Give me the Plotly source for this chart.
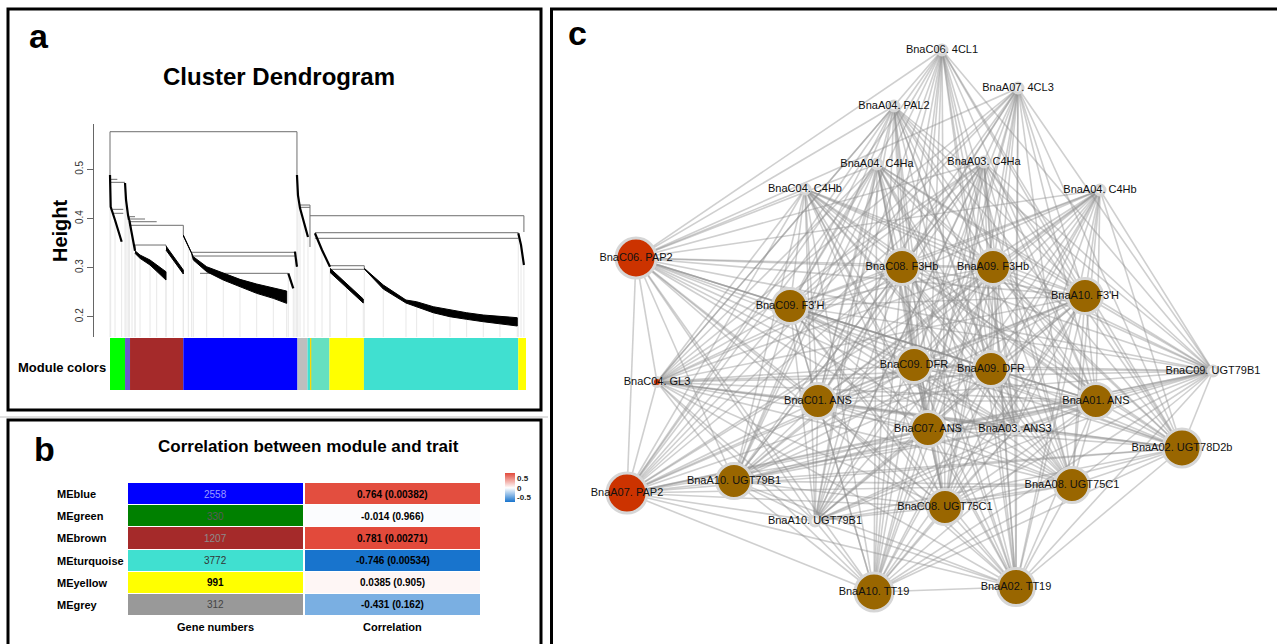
import plotly.graph_objects as go

W, H = 1277, 644
FONT = "Arial, Liberation Sans, Helvetica, sans-serif"

# ---------------- Panel a : dendrogram data (x = gene order, y = height) ----------------
TOTAL_GENES = 9170
HEIGHT_RANGE = [0.1587, 0.5925]
HEIGHT_TICKS = [0.2, 0.3, 0.4, 0.5]

# horizontal merge bars
MERGE_X1 = [0, 0, 15, 59, 59, 425, 425, 425, 425, 551, 1800, 1800, 1984,
            4188, 4188, 4408, 4518, 4518, 4849, 4849]
MERGE_X2 = [4121, 161, 331, 293, 293, 551, 772, 1029, 1616, 1234, 4077, 4077, 3930,
            4408, 4408, 9124, 9000, 9000, 5605, 5605]
MERGE_H = [0.5768, 0.4798, 0.4737, 0.4187, 0.4106, 0.4037, 0.3990, 0.3935, 0.3862,
           0.3460, 0.3312, 0.3236, 0.2884, 0.4275, 0.4228, 0.4057, 0.3711, 0.3597,
           0.3039, 0.2965]
# vertical drops (x, top height, bottom height)
DROP_X = [0, 4121, 9124, 4408, 1616, 425, 551, 1234, 5605, 4849, 9000, 4077, 3930]
DROP_TOP = [0.5768, 0.5768, 0.4057, 0.4275, 0.3862, 0.4037, 0.3460, 0.3460, 0.3039,
            0.3039, 0.3711, 0.3312, 0.2884]
DROP_BOTTOM = [0.4886, 0.4886, 0.3725, 0.3420, 0.3664, 0.3969, 0.3344, 0.3440, 0.2986,
               0.3018, 0.3699, 0.3324, 0.2884]

# dense leaf bands: x, top height, bottom height
BAND_BROWN1_X = [551, 661, 882, 1029, 1234]
BAND_BROWN1_TOP = [0.3344, 0.3257, 0.3155, 0.3053, 0.2916]
BAND_BROWN1_BOT = [0.3291, 0.3189, 0.3053, 0.2916, 0.2747]
BAND_BROWN2_X = [1234, 1396, 1616]
BAND_BROWN2_TOP = [0.3440, 0.3222, 0.2951]
BAND_BROWN2_BOT = [0.3358, 0.3140, 0.2870]
BAND_BLUE_X = [1616, 1726, 1800, 1836, 2131, 2497, 2865, 3233, 3600, 3894]
BAND_BLUE_TOP = [0.3664, 0.3460, 0.3318, 0.3222, 0.3018, 0.2883, 0.2761, 0.2666, 0.2578, 0.2523]
BAND_BLUE_BOT = [0.3644, 0.3440, 0.3290, 0.3155, 0.2917, 0.2747, 0.2611, 0.2476, 0.2374, 0.2272]
BAND_YELLOW_X = [4849, 5217, 5583]
BAND_YELLOW_TOP = [0.2986, 0.2666, 0.2361]
BAND_YELLOW_BOT = [0.2904, 0.2585, 0.2279]
BAND_TURQ_X = [5605, 6024, 6524, 6760, 7126, 7494, 7862, 8228, 8596, 8977]
BAND_TURQ_TOP = [0.2986, 0.2646, 0.2340, 0.2305, 0.2204, 0.2136, 0.2081, 0.2035, 0.2008, 0.1980]
BAND_TURQ_BOT = [0.2971, 0.2564, 0.2279, 0.2204, 0.2081, 0.2000, 0.1947, 0.1898, 0.1851, 0.1811]

# thin branch chains
BRANCH_GREEN_X = [0, 15, 110, 257]
BRANCH_GREEN_H = [0.4886, 0.4240, 0.3970, 0.3527]
BRANCH_PURPLE_X = [331, 353, 397, 419]
BRANCH_PURPLE_H = [0.4723, 0.4377, 0.4071, 0.3969]
BRANCH_BROWN_X = [425, 485, 551]
BRANCH_BROWN_H = [0.3969, 0.3705, 0.3344]
BRANCH_GREY_X = [4121, 4143, 4188, 4276, 4364]
BRANCH_GREY_H = [0.4886, 0.4478, 0.4213, 0.3929, 0.3623]
BRANCH_MIX_X = [4518, 4673, 4849]
BRANCH_MIX_H = [0.3699, 0.3358, 0.3018]
BRANCH_END_X = [9000, 9060, 9124]
BRANCH_END_H = [0.3699, 0.3460, 0.3053]
BRANCH_B1_X = [4077, 4121]
BRANCH_B1_H = [0.3324, 0.3018]
BRANCH_B2_X = [3930, 4040]
BRANCH_B2_H = [0.2884, 0.2578]

# module colour strip (gene counts along leaf order)
STRIP_COLORS = ["#00FF00", "#6A5ACD", "#A52A2A", "#0000FF", "#BEBEBE", "#40E0D0",
                "#FFD700", "#66E0C0", "#FFFF00", "#40E0D0", "#FFFF00"]
STRIP_SIZES = [331, 110, 1175, 2516, 221, 66, 18, 400, 760, 3403, 170]

# ---------------- Panel b : module / trait table ----------------
MODULES = ["MEblue", "MEgreen", "MEbrown", "MEturquoise", "MEyellow", "MEgrey"]
GENE_NUMBERS = [2558, 330, 1207, 3772, 991, 312]
MODULE_COLORS = ["#0000FF", "#008000", "#A52A2A", "#40E0D0", "#FFFF00", "#999999"]
GENE_TEXT_COLORS = ["#9A9AFF", "#5A5A5A", "#8C8C8C", "#333333", "#000000", "#444444"]
CORR = [0.764, -0.014, 0.781, -0.746, 0.0385, -0.431]
PVAL = ["0.00382", "0.966", "0.00271", "0.00534", "0.905", "0.162"]
COLUMNS = ["Gene numbers", "Correlation"]
CBAR_TICKS = [-0.5, 0, 0.5]

# ---------------- Panel c : network ----------------
NODE_NAMES = ["BnaC06. 4CL1", "BnaA07. 4CL3", "BnaA04. PAL2", "BnaA04. C4Ha", "BnaA03. C4Ha",
              "BnaC04. C4Hb", "BnaA04. C4Hb", "BnaC06. PAP2", "BnaC08. F3Hb", "BnaA09. F3Hb",
              "BnaA10. F3'H", "BnaC09. F3'H", "BnaC09. DFR", "BnaA09. DFR", "BnaC04. GL3",
              "BnaC09. UGT79B1", "BnaC01. ANS", "BnaA01. ANS", "BnaC07. ANS", "BnaA03. ANS3",
              "BnaA02. UGT78D2b", "BnaA10. UGT79B1", "BnaA07. PAP2", "BnaA08. UGT75C1",
              "BnaC08. UGT75C1", "BnaA10. UGT79B1", "BnaA10. TT19", "BnaA02. TT19"]
NODE_X = [942, 1018, 894, 877, 984, 805, 1100, 636, 902, 993, 1085, 790, 914, 991, 657,
          1213, 818, 1096, 928, 1015, 1182, 734, 627, 1072, 945, 815, 874, 1016]
NODE_Y = [50, 88, 106, 164, 162, 189, 190, 258, 267, 267, 296, 306, 365, 369, 382,
          371, 401, 401, 429, 429, 448, 481, 493, 485, 507, 521, 592, 587]
NODE_GROUP = ["upstream"] * 7 + ["regulator", "flavonoid", "flavonoid", "flavonoid", "flavonoid",
              "flavonoid", "flavonoid", "regulator", "other", "flavonoid", "flavonoid",
              "flavonoid", "other", "flavonoid", "flavonoid", "regulator", "flavonoid",
              "flavonoid", "other", "flavonoid", "flavonoid"]
NODE_SIZE = [10, 10, 10, 10, 10, 10, 10, 40, 35, 35, 35, 35, 35, 35, 9, 10, 35, 35, 35, 9,
             38, 35, 40, 35, 35, 10, 38, 37]
GROUP_FILL = {"upstream": "#F2F2F2", "other": "#F2F2F2", "regulator": "#CC3300",
              "flavonoid": "#996600"}

# ================== build figure ==================
fig = go.Figure()

def dom_x(a, b):
    return [a / W, b / W]

def dom_y(top, bottom):
    return [1 - bottom / H, 1 - top / H]

# ---- panel a traces ----
bands = [(BAND_BROWN1_X, BAND_BROWN1_TOP, BAND_BROWN1_BOT),
         (BAND_BROWN2_X, BAND_BROWN2_TOP, BAND_BROWN2_BOT),
         (BAND_BLUE_X, BAND_BLUE_TOP, BAND_BLUE_BOT),
         (BAND_YELLOW_X, BAND_YELLOW_TOP, BAND_YELLOW_BOT),
         (BAND_TURQ_X, BAND_TURQ_TOP, BAND_TURQ_BOT)]
branches = [(BRANCH_GREEN_X, BRANCH_GREEN_H), (BRANCH_PURPLE_X, BRANCH_PURPLE_H),
            (BRANCH_BROWN_X, BRANCH_BROWN_H), (BRANCH_GREY_X, BRANCH_GREY_H),
            (BRANCH_MIX_X, BRANCH_MIX_H), (BRANCH_END_X, BRANCH_END_H),
            (BRANCH_B1_X, BRANCH_B1_H), (BRANCH_B2_X, BRANCH_B2_H)]

# faint leaf lines
lx, ly = [], []
for xs, tops, bots in bands:
    for x, b in zip(xs, bots):
        lx += [x, x, None]
        ly += [b, HEIGHT_RANGE[0], None]
for xs, hs in branches:
    for x, h in zip(xs, hs):
        lx += [x, x, None]
        ly += [h, HEIGHT_RANGE[0], None]
fig.add_trace(go.Scatter(x=lx, y=ly, mode="lines", line=dict(color="#E8E8E8", width=1),
                         hoverinfo="skip", xaxis="x", yaxis="y"))

# merges
mx, my = [], []
for x1, x2, h in zip(MERGE_X1, MERGE_X2, MERGE_H):
    mx += [x1, x2, None]
    my += [h, h, None]
for x, t, b in zip(DROP_X, DROP_TOP, DROP_BOTTOM):
    mx += [x, x, None]
    my += [t, b, None]
fig.add_trace(go.Scatter(x=mx, y=my, mode="lines", line=dict(color="#6E6E6E", width=1),
                         hoverinfo="skip", xaxis="x", yaxis="y"))

for xs, hs in branches:
    fig.add_trace(go.Scatter(x=xs, y=hs, mode="lines", line=dict(color="black", width=2.2),
                             hoverinfo="skip", xaxis="x", yaxis="y"))
for xs, tops, bots in bands:
    fig.add_trace(go.Scatter(x=xs + xs[::-1], y=tops + bots[::-1], mode="lines", fill="toself",
                             fillcolor="black", line=dict(color="black", width=1),
                             hoverinfo="skip", xaxis="x", yaxis="y"))

# module colour strip
starts = []
acc = 0
for s in STRIP_SIZES:
    starts.append(acc)
    acc += s
fig.add_trace(go.Bar(x=STRIP_SIZES, base=starts, y=[0] * len(STRIP_SIZES), orientation="h",
                     width=1, marker=dict(color=STRIP_COLORS, line=dict(width=0)),
                     hoverinfo="skip", xaxis="x2", yaxis="y2"))

# ---- panel b ----
nrow = len(MODULES)
color_scale_modules = [[k / (nrow - 1), c] for k, c in enumerate(MODULE_COLORS)]
fig.add_trace(go.Heatmap(z=[[k] for k in range(nrow)], x0=0, dx=1, y0=0, dy=1,
                         zmin=0, zmax=nrow - 1, colorscale=color_scale_modules,
                         showscale=False, xgap=2, ygap=1, hoverinfo="skip",
                         xaxis="x3", yaxis="y3"))
fig.add_trace(go.Heatmap(z=[[c] for c in CORR], x0=1, dx=1, y0=0, dy=1,
                         colorscale=[[0, "#1874CD"], [0.4885, "#FFFFFF"], [1, "#E24A3B"]],
                         zmin=min(CORR), zmax=max(CORR), xgap=2, ygap=1, hoverinfo="skip",
                         colorbar=dict(x=495 / W, xanchor="left", y=1 - 487.5 / H,
                                       yanchor="middle", len=49, lenmode="pixels",
                                       thickness=10, outlinewidth=0, ticks="",
                                       tickvals=CBAR_TICKS,
                                       ticktext=["<b>%g</b>" % t for t in CBAR_TICKS],
                                       tickfont=dict(size=8, family=FONT, color="#222")),
                         xaxis="x3", yaxis="y3"))

# ---- panel c ----
n = len(NODE_NAMES)
ex, ey = [], []
for i in range(n):
    for j in range(i + 1, n):
        if NODE_GROUP[i] == "upstream" and NODE_GROUP[j] == "upstream":
            continue
        ex += [NODE_X[i], NODE_X[j], None]
        ey += [NODE_Y[i], NODE_Y[j], None]
fig.add_trace(go.Scatter(x=ex, y=ey, mode="lines",
                         line=dict(color="rgba(140,140,140,0.42)", width=1.6),
                         hoverinfo="skip", xaxis="x4", yaxis="y4"))
fig.add_trace(go.Scatter(x=NODE_X, y=NODE_Y, mode="markers+text", text=NODE_NAMES,
                         textposition="middle center",
                         textfont=dict(size=11, family=FONT, color="#111"),
                         marker=dict(size=NODE_SIZE, opacity=1,
                                     color=[GROUP_FILL[g] for g in NODE_GROUP],
                                     line=dict(color="#D6D6D6", width=3)),
                         hoverinfo="text", xaxis="x4", yaxis="y4"))

# ---- annotations ----
ann = []
def txt(x, y, s, size, bold=False, color="black", xref="paper", yref="paper",
        xanchor="center", yanchor="middle", angle=0):
    ann.append(dict(x=x, y=y, xref=xref, yref=yref, text=("<b>%s</b>" % s) if bold else s,
                    showarrow=False, xanchor=xanchor, yanchor=yanchor, textangle=angle,
                    font=dict(size=size, family=FONT, color=color)))

txt(39 / W, 1 - 36 / H, "a", 34, True)
txt(44 / W, 1 - 449 / H, "b", 34, True)
txt(577 / W, 1 - 33 / H, "c", 34, True)
txt(279 / W, 1 - 77 / H, "Cluster Dendrogram", 24, True)
txt(60 / W, 1 - 231 / H, "Height", 20, True, angle=-90)
txt(62 / W, 1 - 367 / H, "Module colors", 13, True)
txt(308 / W, 1 - 446 / H, "Correlation between module and trait", 17, True)

for i, m in enumerate(MODULES):
    txt(55 / W, i, m, 11, True, xref="paper", yref="y3", xanchor="left")
    txt(0, i, str(GENE_NUMBERS[i]), 10, MODULE_COLORS[i] == "#FFFF00",
        color=GENE_TEXT_COLORS[i], xref="x3", yref="y3")
    txt(1, i, "%g (%s)" % (CORR[i], PVAL[i]), 10, abs(CORR[i]) > 0.02 or CORR[i] < 0,
        xref="x3", yref="y3")
for k, c in enumerate(COLUMNS):
    txt(k, 1 - 627 / H, c, 11, True, xref="x3", yref="paper")

# ---- panel borders ----
shapes = [
    dict(type="line", xref="paper", yref="paper", x0=0, x1=548 / W, y0=1 - 417 / H,
         y1=1 - 417 / H, line=dict(color="#C0C0C0", width=1)),
    dict(type="rect", xref="paper", yref="paper", x0=8 / W, x1=541 / W, y0=1 - 410 / H,
         y1=1 - 9 / H, line=dict(color="black", width=3)),
    dict(type="rect", xref="paper", yref="paper", x0=8 / W, x1=541 / W, y0=-0.05,
         y1=1 - 420 / H, line=dict(color="black", width=3)),
    dict(type="rect", xref="paper", yref="paper", x0=551.5 / W, x1=1.05, y0=-0.05,
         y1=1 - 9 / H, line=dict(color="black", width=3)),
]

hidden = dict(visible=False, showgrid=False, zeroline=False)
fig.update_layout(
    width=W, height=H, margin=dict(l=0, r=0, t=0, b=0),
    paper_bgcolor="white", plot_bgcolor="rgba(0,0,0,0)", showlegend=False,
    font=dict(family=FONT),
    xaxis=dict(domain=dom_x(94, 527), range=[-353, TOTAL_GENES + 22], anchor="y", **hidden),
    yaxis=dict(domain=dom_y(124, 337), range=HEIGHT_RANGE, anchor="x",
               tickvals=HEIGHT_TICKS, ticktext=[str(t) for t in HEIGHT_TICKS],
               tickangle=-90, ticks="outside", ticklen=6, tickcolor="#666",
               showline=True, linecolor="#666", linewidth=1, showgrid=False, zeroline=False,
               tickfont=dict(size=10, family=FONT, color="#333")),
    xaxis2=dict(domain=dom_x(94, 527), range=[-353, TOTAL_GENES + 22], anchor="y2", **hidden),
    yaxis2=dict(domain=dom_y(338, 390), range=[-0.5, 0.5], anchor="x2", **hidden),
    xaxis3=dict(domain=dom_x(127, 481), range=[-0.5, 1.5], anchor="y3", **hidden),
    yaxis3=dict(domain=dom_y(483, 616), range=[nrow - 0.5, -0.5], anchor="x3", **hidden),
    xaxis4=dict(domain=[551 / W, 1], range=[551, 1277], anchor="y4", **hidden),
    yaxis4=dict(domain=[0, 1 - 9 / H], range=[644, 9], anchor="x4", **hidden),
    annotations=ann, shapes=shapes,
)

fig.write_html("out.html", config={"displayModeBar": False},
               post_script="document.body.style.margin='0px';"
                           "document.body.style.overflow='hidden';")
